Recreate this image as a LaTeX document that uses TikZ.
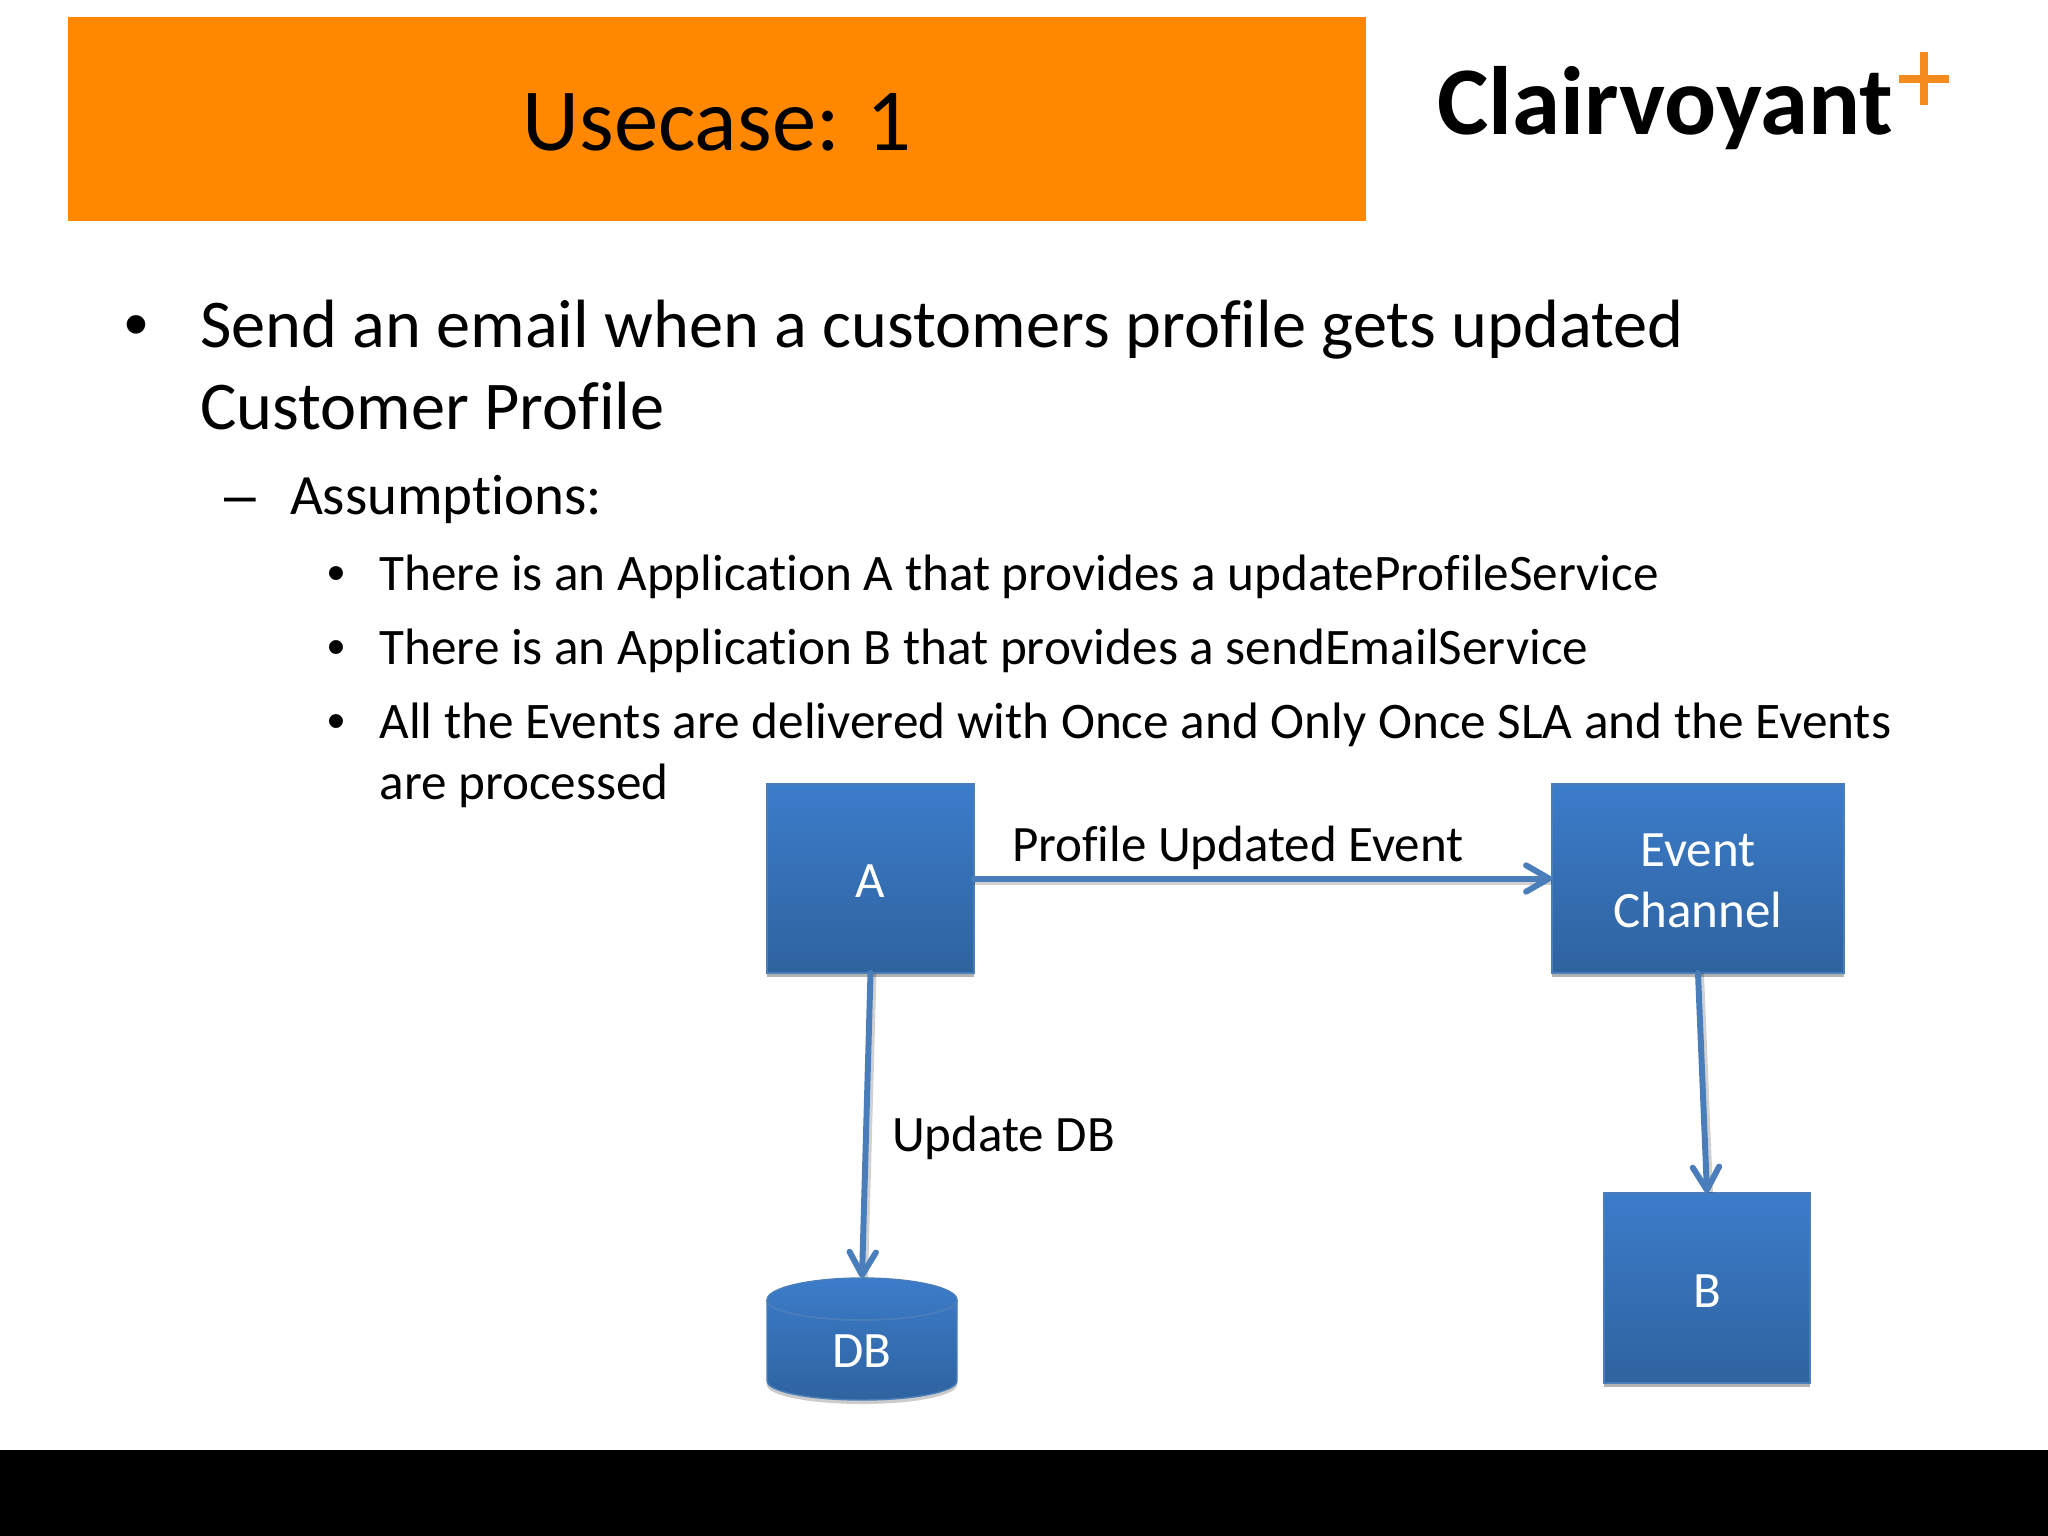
\documentclass[tikz,border=0pt]{standalone}
\usepackage{fontspec}
\setmainfont[Ligatures=NoCommon]{Carlito}
\newfontfamily\bulletfont{Liberation Sans}
\usetikzlibrary{arrows.meta,shadows}
\definecolor{bandorange}{HTML}{FF8800}
\definecolor{plusorange}{HTML}{F58A1F}
\definecolor{boxtop}{HTML}{3C7CCA}
\definecolor{boxmid}{HTML}{3871BA}
\definecolor{boxbot}{HTML}{2E639F}
\definecolor{boxedge}{HTML}{4A7EBB}
\definecolor{linkblue}{HTML}{4A7EBB}
\newcommand{\pushdown}[1]{\raisebox{0pt}[\dimexpr\height+1.5pt\relax][\depth]{#1}}
\tikzset{
  x=0.01cm,y=-0.01cm,
  txt/.style={anchor=base west,inner sep=0pt,outer sep=0pt,text=black},
  lvla/.style={txt,font=\fontsize{19.43pt}{23pt}\selectfont},
  lvlb/.style={txt,font=\fontsize{16.2pt}{19pt}\selectfont},
  lvlc/.style={txt,font=\fontsize{14.56pt}{17pt}\selectfont},
  lbl/.style={txt,font=\fontsize{14.5pt}{17pt}\selectfont},
  bluebox/.style={rectangle,inner sep=0pt,outer sep=0pt,draw=boxedge,line width=0.5pt,
    top color=boxtop,middle color=boxmid,bottom color=boxbot,text=white,align=center,
    font=\fontsize{14.5pt}{17.4pt}\selectfont,
    drop shadow={shadow xshift=0pt,shadow yshift=-1.2pt,opacity=.3,fill=black}},
  link/.style={draw=linkblue,line width=1.7pt,line cap=round,line join=round,
    -{Straight Barb[length=6.5pt,width=7.5pt,round]}},
  linkshadow/.style={draw=black,opacity=.18,line width=1.6pt},
}
\begin{document}
\begin{tikzpicture}
\useasboundingbox (0,0) rectangle (2048,1536);
\fill[white] (0,0) rectangle (2048,1536);
\fill[black] (0,1450) rectangle (2048,1536);
\fill[bandorange] (68,17) rectangle (1366,221);
\node[txt,font=\fontsize{25.2pt}{30pt}\selectfont] (title) at (522.5,150) {Usecase: 1};
% logo
\node[txt,font=\fontsize{27.6pt}{30pt}\selectfont\bfseries] (logo) at (1437,134.5) {Clairvoyant};
\fill[plusorange] (1899,75) rectangle (1949,83);
\fill[plusorange] (1920,52) rectangle (1928,105);
% bullets
\node[lvla,font=\bulletfont\fontsize{19.43pt}{23pt}\selectfont] (bua) at (124,347.5) {•};
\node[lvla] (la) at (200,347.5) {Send an email when a customers profile gets updated};
\node[lvla] (lb) at (200,429.5) {Customer Profile};
\node[lvlb,font=\bulletfont\fontsize{16.2pt}{19pt}\selectfont] (bub) at (224.5,514.5) {–};
\node[lvlb] (lc) at (290,514.5) {Assumptions:};
\node[lvlc,font=\bulletfont\fontsize{14.56pt}{17pt}\selectfont] (buc) at (327,590) {•};
\node[lvlc] (ld) at (379.5,590) {There is an Application A that provides a updateProfileService};
\node[lvlc,font=\bulletfont\fontsize{14.56pt}{17pt}\selectfont] (bud) at (327,664) {•};
\node[lvlc] (le) at (379.5,664) {There is an Application B that provides a sendEmailService};
\node[lvlc,font=\bulletfont\fontsize{14.56pt}{17pt}\selectfont] (bue) at (327,738) {•};
\node[lvlc,font=\fontsize{14.58pt}{17pt}\selectfont] (lf) at (379.5,738) {All the Events are delivered with Once and Only Once SLA and the Events};
\node[lvlc] (lg) at (379.5,799) {are processed};
% boxes
\node[bluebox,minimum width=2.07cm,minimum height=1.89cm] (A) at (870.5,878.5) {\pushdown{A}};
\node[bluebox,minimum width=2.92cm,minimum height=1.89cm] (EC) at (1698,878.5) {\pushdown{Event}\\Channel};
\node[bluebox,minimum width=2.06cm,minimum height=1.9cm] (B) at (1707,1288) {\pushdown{B}};
% database
\fill[black,opacity=.2] (767,1304) -- (767,1385) arc[start angle=180,end angle=0,x radius=95,y radius=19] -- (957,1304) -- cycle;
\draw[boxedge,line width=0.4pt,top color=boxtop,bottom color=boxbot]
  (767,1300) arc[start angle=180,end angle=360,x radius=95,y radius=22]
  -- (957,1381) arc[start angle=0,end angle=180,x radius=95,y radius=19] -- cycle;
\draw[boxedge,line width=0.5pt] (767,1300) arc[start angle=180,end angle=0,x radius=95,y radius=20];
\node[inner sep=0pt,outer sep=0pt,minimum width=1.9cm,minimum height=1.22cm,text=white,font=\fontsize{14.5pt}{17pt}\selectfont] (DB) at (862,1339) {\raisebox{-8pt}[0pt][0pt]{DB}};
% connector shadows
\draw[linkshadow] ([yshift=-1.1pt]A.east) -- ([yshift=-1.1pt]EC.west);
\draw[linkshadow] ([xshift=0.9pt]A.south) -- ([xshift=0.9pt]DB.north);
\draw[linkshadow] ([xshift=0.9pt]EC.south) -- ([xshift=0.9pt]B.north);
% connectors
\draw[link] (A.east) -- (EC.west);
\draw[link] (A.south) -- (DB.north);
\draw[link] (EC.south) -- (B.north);
\node[lbl] (pue) at (1012,861) {Profile Updated Event};
\node[lbl] (udb) at (892,1151) {Update DB};
\end{tikzpicture}
\end{document}
